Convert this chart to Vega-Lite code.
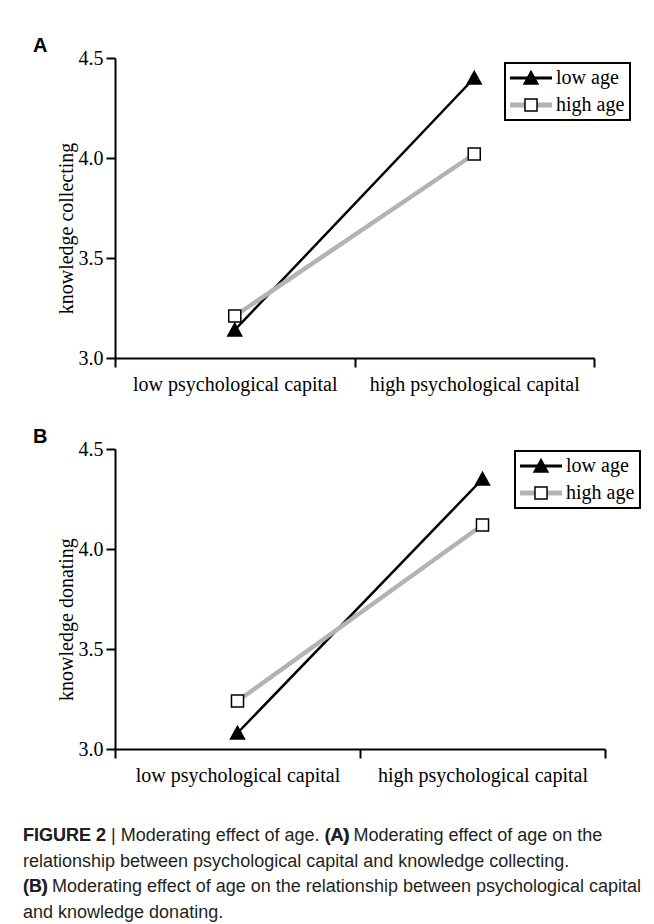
{
  "$schema": "https://vega.github.io/schema/vega-lite/v6.json",
  "padding": {"left": 23, "top": 36, "right": 4, "bottom": 2},
  "data": {"values": [
    {"panel": "A", "age": "low age", "capital": "low psychological capital", "value": 3.14},
    {"panel": "A", "age": "low age", "capital": "high psychological capital", "value": 4.40},
    {"panel": "A", "age": "high age", "capital": "low psychological capital", "value": 3.21},
    {"panel": "A", "age": "high age", "capital": "high psychological capital", "value": 4.02},
    {"panel": "B", "age": "low age", "capital": "low psychological capital", "value": 3.08},
    {"panel": "B", "age": "low age", "capital": "high psychological capital", "value": 4.35},
    {"panel": "B", "age": "high age", "capital": "low psychological capital", "value": 3.24},
    {"panel": "B", "age": "high age", "capital": "high psychological capital", "value": 4.12}
  ]},
  "title": {
    "text": ["FIGURE 2\u00a0\u00a0\u00a0\u00a0\u00a0\u00a0\u00a0\u00a0\u00a0\u00a0\u00a0\u00a0\u00a0\u00a0\u00a0\u00a0\u00a0\u00a0\u00a0\u00a0\u00a0\u00a0\u00a0\u00a0\u00a0\u00a0\u00a0\u00a0\u00a0\u00a0\u00a0\u00a0\u00a0\u00a0\u00a0\u00a0\u00a0\u00a0\u00a0\u00a0\u00a0\u00a0\u00a0\u2009(A)", "(B)"],
    "orient": "bottom", "anchor": "start", "frame": "bounds",
    "font": "Liberation Sans", "fontSize": 18, "fontWeight": "bold",
    "lineHeight": 51, "color": "#231f20", "offset": -94.5, "dx": 0, "baseline": "top"
  },
  "vconcat": [
    {
      "title": {
        "text": [
          "FIGURE 2 | Moderating effect of age. (A) Moderating effect of age on the",
          "relationship between psychological capital and knowledge collecting.",
          "(B) Moderating effect of age on the relationship between psychological capital",
          "and knowledge donating."
        ],
        "orient": "bottom", "anchor": "start", "frame": "bounds",
        "font": "Liberation Sans", "fontSize": 18, "fontWeight": "normal",
        "lineHeight": 25.5, "color": "#231f20", "offset": 42, "dx": -10, "baseline": "top"
      },
      "spacing": 33,
      "resolve": {"scale": {"stroke": "independent", "strokeWidth": "independent", "shape": "independent", "fill": "independent"}},
      "vconcat": [
        {
          "title": {"text": "A", "anchor": "start", "frame": "group", "dx": -82, "font": "Liberation Sans", "fontSize": 20, "fontWeight": "bold", "baseline": "alphabetic", "offset": -24, "color": "#000"},
          "width": 479, "height": 300,
          "transform": [{"filter": "datum.panel === 'A'"}],
          "encoding": {
            "x": {"field": "capital", "type": "nominal", "sort": ["low psychological capital", "high psychological capital"],
                  "scale": {"type": "band", "paddingInner": 0, "paddingOuter": 0},
                  "axis": {"title": null, "labelAngle": 0, "labelLimit": 0, "tickBand": "extent", "tickSize": 9, "labelPadding": 7}},
            "y": {"field": "value", "type": "quantitative", "scale": {"domain": [3, 4.5], "nice": false, "zero": false},
                  "axis": {"values": [3, 3.5, 4, 4.5], "format": ".1f", "title": "knowledge collecting", "tickSize": 9, "labelPadding": 3, "titlePadding": 2, "titleY": 170}}
          },
          "layer": [
            {
              "mark": {"type": "line"},
              "encoding": {
                "stroke": {"field": "age", "type": "nominal", "sort": ["low age", "high age"], "scale": {"range": ["#000000", "#b3b3b3"]},
                  "legend": {"title": null, "orient": "none", "legendX": 390, "legendY": 5, "symbolType": "M-3,0H3", "symbolSize": 196, "symbolOffset": 11, "symbolStrokeWidth": 3,
                    "labelFont": "Liberation Serif", "labelFontSize": 20, "labelColor": "#000", "labelOffset": 15, "padding": 5, "rowPadding": 7,
                    "encode": {"legend": {"update": {"stroke": {"value": "#000"}, "strokeWidth": {"value": 2}}},
                               "symbols": {"update": {"strokeWidth": {"signal": "datum.value === 'low age' ? 3 : 5"}}}}}},
                "strokeWidth": {"field": "age", "type": "nominal", "sort": ["low age", "high age"], "scale": {"range": [2.5, 4.5]}, "legend": null}
              }
            },
            {
              "mark": {"type": "point", "filled": true, "size": 196, "stroke": "#000", "strokeWidth": 1.5, "opacity": 1},
              "encoding": {
                "shape": {"field": "age", "type": "nominal", "scale": {"domain": ["low age", "high age"], "range": ["M0,-0.95L1,0.85L-1,0.85Z", "M-0.86,-0.86H0.86V0.86H-0.86Z"]},
                  "legend": {"title": null, "orient": "none", "legendX": 390, "legendY": 5, "symbolSize": 196, "symbolOffset": 11, "symbolOpacity": 1,
                    "labelFont": "Liberation Serif", "labelFontSize": 20, "labelOpacity": 0, "labelOffset": 15, "padding": 5, "rowPadding": 7,
                    "encode": {"symbols": {"update": {"stroke": {"value": "#000"}, "strokeWidth": {"value": 1.5}}}}}},
                "fill": {"field": "age", "type": "nominal", "scale": {"domain": ["low age", "high age"], "range": ["#000000", "#ffffff"]},
                  "legend": {"title": null, "orient": "none", "legendX": 390, "legendY": 5, "symbolSize": 196, "symbolOffset": 11, "symbolOpacity": 1,
                    "labelFont": "Liberation Serif", "labelFontSize": 20, "labelOpacity": 0, "labelOffset": 15, "padding": 5, "rowPadding": 7}}
              }
            }
          ]
        },
        {
          "title": {"text": "B", "anchor": "start", "frame": "group", "dx": -82, "font": "Liberation Sans", "fontSize": 20, "fontWeight": "bold", "baseline": "alphabetic", "offset": -24, "color": "#000"},
          "width": 490, "height": 300,
          "transform": [{"filter": "datum.panel === 'B'"}],
          "encoding": {
            "x": {"field": "capital", "type": "nominal", "sort": ["low psychological capital", "high psychological capital"],
                  "scale": {"type": "band", "paddingInner": 0, "paddingOuter": 0},
                  "axis": {"title": null, "labelAngle": 0, "labelLimit": 0, "tickBand": "extent", "tickSize": 9, "labelPadding": 7}},
            "y": {"field": "value", "type": "quantitative", "scale": {"domain": [3, 4.5], "nice": false, "zero": false},
                  "axis": {"values": [3, 3.5, 4, 4.5], "format": ".1f", "title": "knowledge donating", "tickSize": 9, "labelPadding": 3, "titlePadding": 2, "titleY": 170}}
          },
          "layer": [
            {
              "mark": {"type": "line"},
              "encoding": {
                "stroke": {"field": "age", "type": "nominal", "sort": ["low age", "high age"], "scale": {"range": ["#000000", "#b3b3b3"]},
                  "legend": {"title": null, "orient": "none", "legendX": 400, "legendY": 2, "symbolType": "M-3,0H3", "symbolSize": 196, "symbolOffset": 11, "symbolStrokeWidth": 3,
                    "labelFont": "Liberation Serif", "labelFontSize": 20, "labelColor": "#000", "labelOffset": 15, "padding": 5, "rowPadding": 7,
                    "encode": {"legend": {"update": {"stroke": {"value": "#000"}, "strokeWidth": {"value": 2}}},
                               "symbols": {"update": {"strokeWidth": {"signal": "datum.value === 'low age' ? 3 : 5"}}}}}},
                "strokeWidth": {"field": "age", "type": "nominal", "sort": ["low age", "high age"], "scale": {"range": [2.5, 4.5]}, "legend": null}
              }
            },
            {
              "mark": {"type": "point", "filled": true, "size": 196, "stroke": "#000", "strokeWidth": 1.5, "opacity": 1},
              "encoding": {
                "shape": {"field": "age", "type": "nominal", "scale": {"domain": ["low age", "high age"], "range": ["M0,-0.95L1,0.85L-1,0.85Z", "M-0.86,-0.86H0.86V0.86H-0.86Z"]},
                  "legend": {"title": null, "orient": "none", "legendX": 400, "legendY": 2, "symbolSize": 196, "symbolOffset": 11, "symbolOpacity": 1,
                    "labelFont": "Liberation Serif", "labelFontSize": 20, "labelOpacity": 0, "labelOffset": 15, "padding": 5, "rowPadding": 7,
                    "encode": {"symbols": {"update": {"stroke": {"value": "#000"}, "strokeWidth": {"value": 1.5}}}}}},
                "fill": {"field": "age", "type": "nominal", "scale": {"domain": ["low age", "high age"], "range": ["#000000", "#ffffff"]},
                  "legend": {"title": null, "orient": "none", "legendX": 400, "legendY": 2, "symbolSize": 196, "symbolOffset": 11, "symbolOpacity": 1,
                    "labelFont": "Liberation Serif", "labelFontSize": 20, "labelOpacity": 0, "labelOffset": 15, "padding": 5, "rowPadding": 7}}
              }
            }
          ]
        }
      ]
    }
  ],
  "config": {
    "view": {"stroke": null},
    "axis": {"labelFont": "Liberation Serif", "labelFontSize": 20, "labelColor": "#000", "titleFont": "Liberation Serif", "titleFontSize": 20,
             "titleFontWeight": "normal", "titleColor": "#000", "domainColor": "#000", "domainWidth": 2, "tickColor": "#000", "tickWidth": 2, "grid": false}
  }
}
